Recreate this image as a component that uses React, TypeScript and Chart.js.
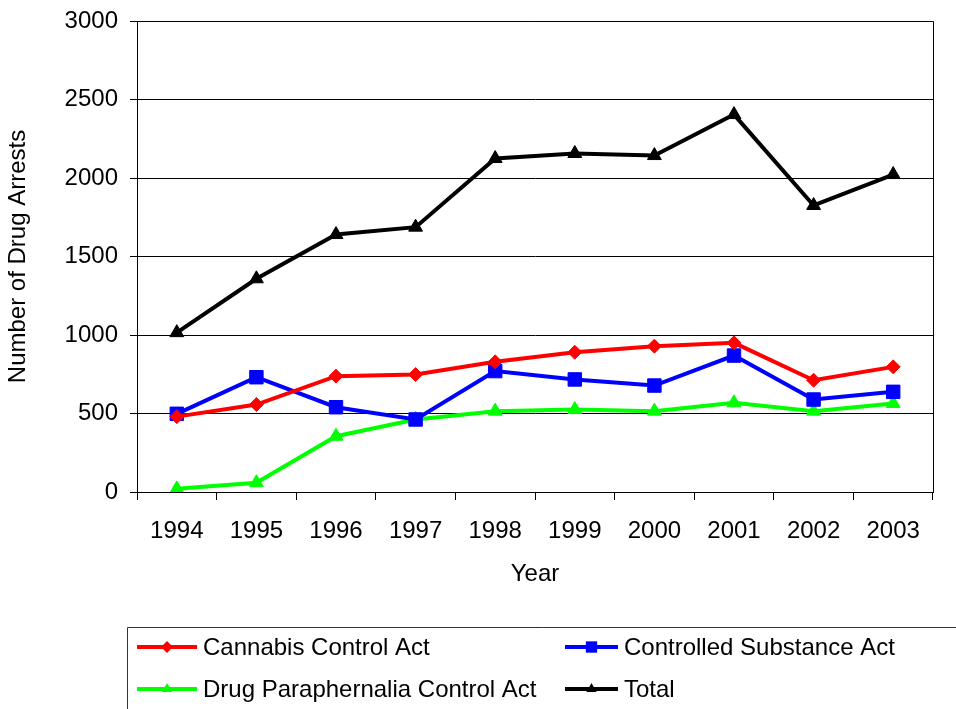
import React, { useEffect, useRef } from 'react';
import { Chart, registerables } from 'chart.js';

Chart.register(...registerables);

const categories = ['1994', '1995', '1996', '1997', '1998', '1999', '2000', '2001', '2002', '2003'];
const cannabisControl = [480, 557, 738, 748, 829, 890, 929, 950, 712, 797];
const controlledSubstance = [498, 731, 540, 462, 770, 717, 678, 869, 589, 638];
const paraphernaliaControl = [20, 59, 355, 462, 515, 525, 515, 568, 515, 564];
const totalArrests = [1015, 1358, 1640, 1687, 2124, 2156, 2143, 2404, 1825, 2022];
const seriesNames = ['Cannabis Control Act', 'Controlled Substance Act', 'Drug Paraphernalia Control Act', 'Total'];

const FONT = "'Liberation Sans', Arial, sans-serif";
const FS = 24;

function drawMarker(ctx: CanvasRenderingContext2D, style: string, x: number, y: number, r: number) {
  ctx.beginPath();
  if (style === 'rectRot') {
    ctx.moveTo(x, y - r);
    ctx.lineTo(x + r, y);
    ctx.lineTo(x, y + r);
    ctx.lineTo(x - r, y);
  } else if (style === 'rect') {
    const s = r * Math.SQRT1_2;
    ctx.rect(x - s, y - s, 2 * s, 2 * s);
  } else {
    ctx.moveTo(x, y - r);
    ctx.lineTo(x + r * 0.866, y + r * 0.5);
    ctx.lineTo(x - r * 0.866, y + r * 0.5);
  }
  ctx.closePath();
  ctx.fill();
}

const framePlugin = {
  id: 'frameAndLegend',
  afterDraw(chart: any) {
    const { ctx, chartArea } = chart;
    ctx.save();
    // plot frame (top and right)
    ctx.strokeStyle = '#000';
    ctx.lineWidth = 1;
    ctx.beginPath();
    ctx.moveTo(chartArea.left, Math.round(chartArea.top) + 0.5);
    ctx.lineTo(Math.round(chartArea.right) + 0.5, Math.round(chartArea.top) + 0.5);
    ctx.lineTo(Math.round(chartArea.right) + 0.5, chartArea.bottom);
    ctx.stroke();

    // legend box
    ctx.strokeStyle = '#333';
    ctx.beginPath();
    ctx.moveTo(127.5, 720);
    ctx.lineTo(127.5, 627.5);
    ctx.lineTo(970, 627.5);
    ctx.stroke();

    const slots = [
      { lx: 137, tx: 203, y: 647 },
      { lx: 565, tx: 624, y: 647 },
      { lx: 137, tx: 203, y: 689 },
      { lx: 565, tx: 624, y: 689 },
    ];
    ctx.font = `${FS}px ${FONT}`;
    ctx.textBaseline = 'middle';
    ctx.textAlign = 'left';
    chart.data.datasets.forEach((ds: any, i: number) => {
      const s = slots[i];
      const lineEnd = s.tx - 6;
      ctx.strokeStyle = ds.borderColor;
      ctx.lineWidth = 4;
      ctx.beginPath();
      ctx.moveTo(s.lx, s.y);
      ctx.lineTo(lineEnd, s.y);
      ctx.stroke();
      ctx.fillStyle = ds.borderColor;
      drawMarker(ctx, ds.pointStyle, (s.lx + lineEnd) / 2, s.y, ds.pointStyle === 'rect' ? 8 : 6);
      ctx.fillStyle = '#000';
      ctx.fillText(ds.label, s.tx, s.y + 1);
    });
    ctx.restore();
  },
};

export default function App() {
  const canvasRef = useRef<HTMLCanvasElement | null>(null);

  useEffect(() => {
    document.body.style.margin = '0';
    Chart.defaults.font.family = FONT;
    Chart.defaults.color = '#000';
    const mk = (label: string, data: number[], color: string, style: string, radius: number) => ({
      label,
      data,
      borderColor: color,
      backgroundColor: color,
      pointBackgroundColor: color,
      pointBorderColor: color,
      pointStyle: style,
      pointRadius: radius,
      pointBorderWidth: 1,
      borderWidth: 4,
      tension: 0,
    });
    const chart = new Chart(canvasRef.current as HTMLCanvasElement, {
      type: 'line',
      data: {
        labels: categories,
        datasets: [
          mk(seriesNames[0], cannabisControl, '#FF0000', 'rectRot', 7),
          mk(seriesNames[1], controlledSubstance, '#0000FF', 'rect', 9.5),
          mk(seriesNames[2], paraphernaliaControl, '#00FF00', 'triangle', 8),
          mk(seriesNames[3], totalArrests, '#000000', 'triangle', 8),
        ] as any,
      },
      options: {
        animation: false,
        responsive: true,
        maintainAspectRatio: false,
        layout: { padding: { top: 21, right: 23, bottom: 114, left: 0 } },
        plugins: { legend: { display: false }, tooltip: { enabled: false } },
        scales: {
          x: {
            type: 'category',
            offset: true,
            grid: {
              offset: true,
              drawOnChartArea: false,
              drawTicks: true,
              tickLength: 8,
              color: '#000',
            },
            border: { display: true, color: '#000', width: 1 },
            ticks: { font: { size: FS, family: FONT }, color: '#000', padding: 17, maxRotation: 0 },
            title: {
              display: true,
              text: 'Year',
              font: { size: FS, family: FONT },
              color: '#000',
              padding: { top: 0, bottom: 6 },
            },
            afterFit: (scale: any) => {
              scale.height = 103;
            },
          },
          y: {
            min: 0,
            max: 3000,
            ticks: {
              stepSize: 500,
              font: { size: FS, family: FONT },
              color: '#000',
              padding: 12,
              callback: (v: any) => String(v),
            },
            grid: { color: '#000', lineWidth: 1, tickLength: 7, drawTicks: true },
            border: { display: true, color: '#000', width: 1 },
            title: {
              display: true,
              text: 'Number of Drug Arrests',
              font: { size: FS, family: FONT },
              color: '#000',
              padding: { top: 4, bottom: 0 },
            },
            afterFit: (scale: any) => {
              scale.width = 137;
              scale.paddingTop = 0;
              scale.paddingBottom = 0;
            },
          },
        },
      },
      plugins: [framePlugin],
    });
    return () => chart.destroy();
  }, []);

  return (
    <div style={{ position: 'fixed', left: 0, top: 0, width: 956, height: 709 }}>
      <canvas ref={canvasRef} />
    </div>
  );
}
